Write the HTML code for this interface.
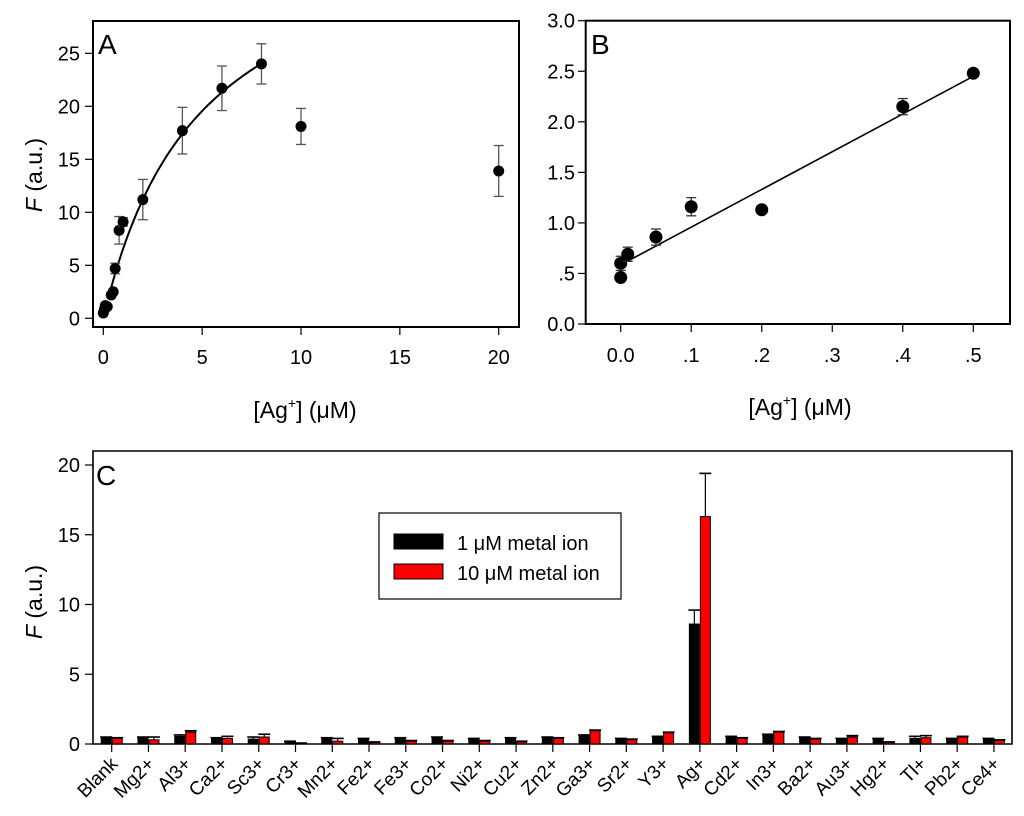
<!DOCTYPE html>
<html><head><meta charset="utf-8"><style>
body{margin:0;background:#fff}
svg{display:block;font-family:"Liberation Sans",Arial,sans-serif}
</style></head><body>
<svg id="fig" width="1024" height="816" viewBox="0 0 1024 816" xmlns="http://www.w3.org/2000/svg"></svg>
<script>
// Panel A data
const aX=[0,0.05,0.1,0.2,0.4,0.5,0.6,0.8,1,2,4,6,8,10,20];
const aY=[0.5,0.8,1.2,1.1,2.2,2.5,4.7,8.3,9.1,11.2,17.7,21.7,24.0,18.1,13.9];
const aErr=[0.1,0.1,0.1,0.1,0.2,0.2,0.5,1.3,0.4,1.9,2.2,2.1,1.9,1.7,2.4];
const aFit=[38.8,4.92]; // Fmax, K
const aXTicks=[0,5,10,15,20];
const aYTicks=[0,5,10,15,20,25];
// Panel B data
const bX=[0,0,0.01,0.05,0.1,0.2,0.4,0.5];
const bY=[0.46,0.6,0.69,0.86,1.16,1.13,2.15,2.48];
const bErr=[0,0.07,0.07,0.08,0.09,0,0.08,0.03];
const bFit=[3.73,0.585]; // slope, intercept
const bXTicks=[0,0.1,0.2,0.3,0.4,0.5];
const bXLabels=["0.0",".1",".2",".3",".4",".5"];
const bYTicks=[0,0.5,1,1.5,2,2.5,3];
const bYLabels=["0.0",".5","1.0","1.5","2.0","2.5","3.0"];
// Panel C data
const cCats=["Blank","Mg2+","Al3+","Ca2+","Sc3+","Cr3+","Mn2+","Fe2+","Fe3+","Co2+","Ni2+","Cu2+","Zn2+","Ga3+","Sr2+","Y3+","Ag+","Cd2+","In3+","Ba2+","Au3+","Hg2+","Tl+","Pb2+","Ce4+"];
const c1=[0.45,0.45,0.55,0.4,0.35,0.15,0.4,0.35,0.4,0.45,0.35,0.4,0.45,0.6,0.35,0.5,8.6,0.5,0.65,0.45,0.35,0.35,0.4,0.35,0.35];
const c1Err=[0.05,0.05,0.1,0.05,0.15,0.05,0.05,0.05,0.05,0.05,0.05,0.05,0.05,0.05,0.05,0.05,1.0,0.05,0.05,0.05,0.05,0.05,0.15,0.05,0.05];
const c10=[0.4,0.3,0.85,0.4,0.5,0.05,0.2,0.1,0.2,0.2,0.2,0.15,0.4,0.95,0.3,0.8,16.3,0.4,0.85,0.35,0.5,0.1,0.45,0.5,0.25];
const c10Err=[0.05,0.2,0.1,0.15,0.2,0.02,0.2,0.05,0.05,0.05,0.05,0.05,0.05,0.05,0.05,0.05,3.1,0.05,0.05,0.05,0.1,0.05,0.15,0.05,0.05];
const cYTicks=[0,5,10,15,20];

const S=document.getElementById('fig');
const NS='http://www.w3.org/2000/svg';
function mk(t,a,txt){const e=document.createElementNS(NS,t);for(const k in a)e.setAttribute(k,a[k]);if(txt!==undefined)e.textContent=txt;S.appendChild(e);return e;}

// ---------- Panel A ----------
const ax=v=>103.3+v*19.77, ay=v=>318.3-v*10.6;
let e=mk('rect',{x:93,y:21,width:426,height:306,fill:'none',stroke:'#000','stroke-width':2});

aXTicks.forEach(t=>{mk('line',{x1:ax(t),x2:ax(t),y1:327,y2:335,stroke:'#000','stroke-width':1.2});
 e=mk('text',{x:ax(t),y:364,'font-size':20,'text-anchor':'middle'},String(t));
 });
aYTicks.forEach(t=>{mk('line',{x1:85,x2:93,y1:ay(t),y2:ay(t),stroke:'#000','stroke-width':1.2});
 e=mk('text',{x:80,y:ay(t)+7,'font-size':20,'text-anchor':'end'},String(t));
 });
e=mk('text',{x:98,y:54,'font-size':28},'A');
let d='';for(let i=0;i<=60;i++){const x=0.3+i*(8-0.3)/60;const y=aFit[0]*x/(aFit[1]+x);d+=(i?'L':'M')+ax(x).toFixed(1)+' '+ay(y).toFixed(1);}
e=mk('path',{d:d,fill:'none',stroke:'#000','stroke-width':2});
aX.forEach((x,i)=>{const cx=ax(x);
 if(aErr[i]>0.3){mk('line',{x1:cx,x2:cx,y1:ay(aY[i]-aErr[i]),y2:ay(aY[i]+aErr[i]),stroke:'#555','stroke-width':1.3});
  [aY[i]-aErr[i],aY[i]+aErr[i]].forEach(v=>mk('line',{x1:cx-5,x2:cx+5,y1:ay(v),y2:ay(v),stroke:'#555','stroke-width':1.3}));}
 e=mk('circle',{cx:cx,cy:ay(aY[i]),r:5.5,fill:'#000'});});
e=mk('text',{x:0,y:0,'font-size':23,transform:'translate(42,175) rotate(-90)','text-anchor':'middle'});

e.innerHTML='<tspan font-style="italic">F</tspan> (a.u.)';
e=mk('text',{x:305,y:418,'font-size':23,'text-anchor':'middle'});

e.innerHTML='[Ag<tspan font-size="14" dy="-10">+</tspan><tspan dy="10">] (μM)</tspan>';

// ---------- Panel B ----------
const bx=v=>620.7+v*705.2, by=v=>324-v*101.1;
e=mk('rect',{x:585.7,y:20.7,width:424.3,height:303.3,fill:'none',stroke:'#000','stroke-width':2});

bXTicks.forEach((t,i)=>{mk('line',{x1:bx(t),x2:bx(t),y1:324,y2:332,stroke:'#000','stroke-width':1.2});
 e=mk('text',{x:bx(t),y:362,'font-size':20,'text-anchor':'middle'},bXLabels[i]);
 });
bYTicks.forEach((t,i)=>{mk('line',{x1:578,x2:585.7,y1:by(t),y2:by(t),stroke:'#000','stroke-width':1.2});
 e=mk('text',{x:575,y:by(t)+7,'font-size':20,'text-anchor':'end'},bYLabels[i]);
 });
e=mk('text',{x:591,y:54,'font-size':28},'B');
e=mk('line',{x1:bx(0.01),y1:by(bFit[1]+bFit[0]*0.01),x2:bx(0.5),y2:by(bFit[1]+bFit[0]*0.5),stroke:'#000','stroke-width':1.6});

bX.forEach((x,i)=>{const cx=bx(x);
 if(bErr[i]>0){mk('line',{x1:cx,x2:cx,y1:by(bY[i]-bErr[i]),y2:by(bY[i]+bErr[i]),stroke:'#333','stroke-width':1.3});
  [bY[i]-bErr[i],bY[i]+bErr[i]].forEach(v=>mk('line',{x1:cx-5,x2:cx+5,y1:by(v),y2:by(v),stroke:'#333','stroke-width':1.3}));}
 e=mk('circle',{cx:cx,cy:by(bY[i]),r:6.5,fill:'#000'});});
e=mk('text',{x:800,y:415,'font-size':23,'text-anchor':'middle'});

e.innerHTML='[Ag<tspan font-size="14" dy="-10">+</tspan><tspan dy="10">] (μM)</tspan>';

// ---------- Panel C ----------
const cx0=i=>111.7+i*36.76, cy=v=>744-v*13.95;
e=mk('path',{d:'M93 744 V451 H1012 V744 Z',fill:'none',stroke:'#000','stroke-width':1.6});

cYTicks.forEach(t=>{mk('line',{x1:85,x2:93,y1:cy(t),y2:cy(t),stroke:'#000','stroke-width':1.2});
 e=mk('text',{x:80,y:cy(t)+7,'font-size':20,'text-anchor':'end'},String(t));
 });
e=mk('text',{x:96,y:485,'font-size':28},'C');
cCats.forEach((c,i)=>{const x=cx0(i);
 [[c1,c1Err,x-10.5,'#000','bar-1um'],[c10,c10Err,x+0.5,'#f00','bar-10um']].forEach(s=>{
  const v=s[0][i],er=s[1][i];
  mk('line',{x1:s[2]+5,x2:s[2]+5,y1:cy(v),y2:cy(v+er),stroke:'#000','stroke-width':1.2});
  mk('line',{x1:s[2]-1,x2:s[2]+11,y1:cy(v+er),y2:cy(v+er),stroke:'#000','stroke-width':1.6});
  e=mk('rect',{x:s[2],y:cy(v),width:10,height:cy(0)-cy(v),fill:s[3],stroke:'#000','stroke-width':1});
  
 });
 mk('line',{x1:x,x2:x,y1:744,y2:752,stroke:'#000','stroke-width':1.2});
 e=mk('text',{x:0,y:0,'font-size':19,'text-anchor':'end',transform:`translate(${x+7},${765}) rotate(-45)`},c);
 
});
e=mk('text',{x:0,y:0,'font-size':23,transform:'translate(42,602) rotate(-90)','text-anchor':'middle'});

e.innerHTML='<tspan font-style="italic">F</tspan> (a.u.)';
// legend
e=mk('rect',{x:379,y:513,width:242,height:86,fill:'#fff',stroke:'#000','stroke-width':1.2});

e=mk('rect',{x:394,y:534,width:49,height:15,fill:'#000',stroke:'#000'});
e=mk('rect',{x:394,y:564,width:49,height:15,fill:'#f00',stroke:'#000'});
e=mk('text',{x:457,y:550,'font-size':20},'1 μM metal ion');
e=mk('text',{x:457,y:580,'font-size':20},'10 μM metal ion');
</script>
</body></html>
